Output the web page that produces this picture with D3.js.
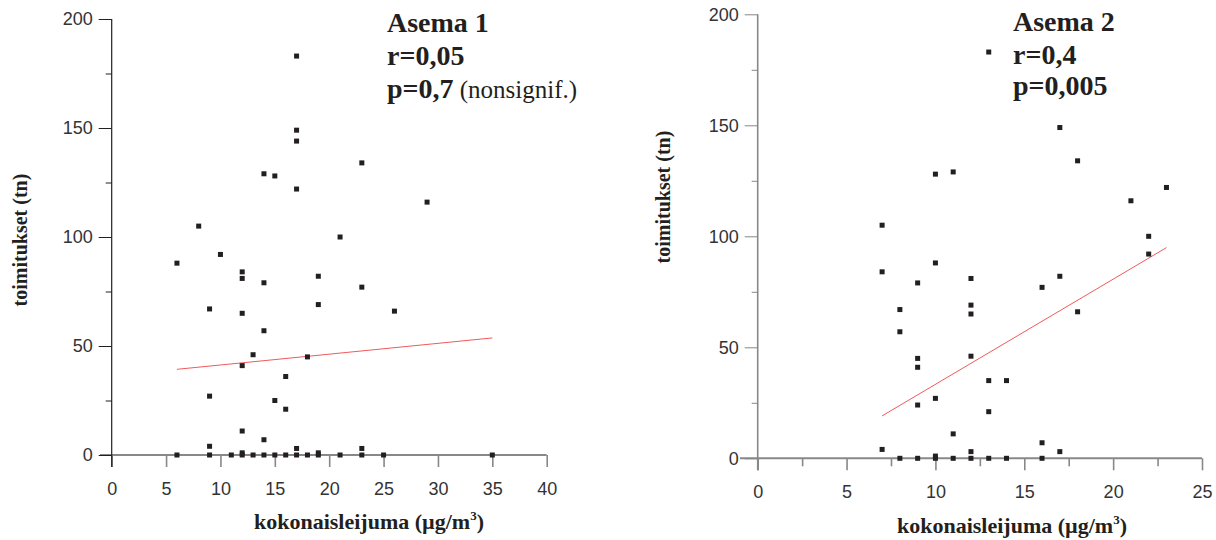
<!DOCTYPE html>
<html>
<head>
<meta charset="utf-8">
<script src="https://cdn.jsdelivr.net/npm/d3@7"></script>
<style>
  body { margin: 0; background: #fff; }
  svg { display: block; }
  .tick text { font-family: "Liberation Sans", Arial, sans-serif; fill: #333; }
  .xlab text { font-family: "Liberation Sans Narrow", "Liberation Sans", Arial, sans-serif; }
</style>
</head>
<body>
<div class="chart"></div>
<script>
// Asema 1
var s1X = [17, 17, 17, 23, 14, 15, 17, 29, 8, 21, 10, 6, 12, 12, 19, 14, 23, 9, 12, 19, 26, 14,
           13, 18, 12, 16, 9, 15, 16, 12, 14, 9, 17, 19, 23, 12,
           6, 9, 11, 12, 13, 14, 15, 16, 17, 18, 19, 21, 23, 25, 35];
var s1Y = [183, 149, 144, 134, 129, 128, 122, 116, 105, 100, 92, 88, 84, 81, 82, 79, 77, 67, 65, 69, 66, 57,
           46, 45, 41, 36, 27, 25, 21, 11, 7, 4, 3, 1, 3, 1,
           0, 0, 0, 0, 0, 0, 0, 0, 0, 0, 0, 0, 0, 0, 0];
var fit1X = [6, 35];
var fit1Y = [39.3, 53.7];

// Asema 2
var s2X = [13, 17, 18, 10, 11, 23, 21, 7, 22, 22, 10, 7, 12, 9, 17, 16, 8, 12, 12, 18, 8,
           9, 9, 12, 13, 14, 10, 9, 13, 11, 16, 7, 12, 17, 10,
           8, 9, 10, 11, 12, 13, 14, 16];
var s2Y = [183, 149, 134, 128, 129, 122, 116, 105, 100, 92, 88, 84, 81, 79, 82, 77, 67, 69, 65, 66, 57,
           45, 41, 46, 35, 35, 27, 24, 21, 11, 7, 4, 3, 3, 1,
           0, 0, 0, 0, 0, 0, 0, 0];
var fit2X = [7, 23];
var fit2Y = [19.1, 94.9];

var yTicks = [0, 25, 50, 75, 100, 125, 150, 175, 200];
var x1Ticks = [0, 5, 10, 15, 20, 25, 30, 35, 40];
var x2Ticks = [0, 2.5, 5, 7.5, 10, 12.5, 15, 17.5, 20, 22.5, 25];

var titles1 = ["Asema 1", "r=0,05", "p=0,7"];
var titles2 = ["Asema 2", "r=0,4", "p=0,005"];
var note1 = "(nonsignif.)";
var yTitle = "toimitukset (tn)";
var xTitle = "kokonaisleijuma (\u00b5g/m";

var svg = d3.select('.chart').append('svg')
    .attr('width', 1216)
    .attr('height', 540);

function panel(cfg) {
    var x = d3.scaleLinear().domain(cfg.xDomain).range(cfg.xRange);
    var y = d3.scaleLinear().domain([0, 200]).range(cfg.yRange);
    var g = svg.append('g');

    // x axis
    var xa = g.append('g')
        .attr('class', 'xlab')
        .attr('transform', 'translate(0,' + y(0) + ')')
        .call(d3.axisBottom(x).tickValues(cfg.xTicks).tickSize(cfg.xTickLen)
            .tickFormat(function (d) { return d % 5 === 0 ? d : ''; }));
    xa.select('.domain').remove();
    xa.selectAll('.tick line')
        .attr('stroke', '#888')
        .attr('stroke-width', 1.6)
        .attr('y2', function (d) { return d % 5 === 0 ? cfg.xTickLen : cfg.xTickLen - 4; });
    xa.selectAll('.tick text')
        .attr('y', cfg.xLabelY)
        .attr('dy', null)
        .style('font-size', '18px');
    g.append('line')
        .attr('x1', cfg.xAxisStart).attr('x2', x(cfg.xDomain[1]))
        .attr('y1', y(0)).attr('y2', y(0))
        .attr('stroke', '#888').attr('stroke-width', 2);

    // y axis
    var ya = g.append('g')
        .attr('transform', 'translate(' + x(0) + ',0)')
        .call(d3.axisLeft(y).tickValues(yTicks).tickSize(13)
            .tickFormat(function (d) { return d % 50 === 0 ? d : ''; }));
    ya.select('.domain').remove();
    ya.selectAll('.tick line')
        .attr('stroke', cfg.yColor)
        .attr('x2', function (d) { return d % 50 === 0 ? -13 : -6; });
    ya.selectAll('.tick text')
        .attr('x', -19)
        .style('font-size', '18px');
    g.append('line')
        .attr('x1', x(0)).attr('x2', x(0))
        .attr('y1', y(200)).attr('y2', y(0) + cfg.xTickLen)
        .attr('stroke', cfg.yColor).attr('stroke-width', cfg.yWidth);

    // regression line
    g.append('line')
        .attr('x1', x(cfg.fitX[0])).attr('y1', y(cfg.fitY[0]))
        .attr('x2', x(cfg.fitX[1])).attr('y2', y(cfg.fitY[1]))
        .attr('stroke', '#f05a5a').attr('stroke-width', 1);

    // points
    g.selectAll('.pt')
        .data(cfg.xs.map(function (v, i) { return [v, cfg.ys[i]]; }))
        .enter().append('rect')
        .attr('class', 'pt')
        .attr('x', function (d) { return x(d[0]) - 2.5; })
        .attr('y', function (d) { return y(d[1]) - 2.5; })
        .attr('width', 5).attr('height', 5)
        .attr('fill', '#231f20');

    // axis titles
    g.append('text')
        .attr('transform', 'translate(' + cfg.yTitleX + ',' + cfg.yTitleY + ') rotate(-90)')
        .attr('text-anchor', 'middle')
        .style('font-family', '"Liberation Serif", "Times New Roman", serif')
        .style('font-weight', 'bold')
        .style('font-size', '20px')
        .attr('fill', '#231f20')
        .text(yTitle);

    var xt = g.append('text')
        .attr('x', cfg.xTitleX).attr('y', cfg.xTitleY)
        .attr('text-anchor', 'middle')
        .style('font-family', '"Liberation Serif", "Times New Roman", serif')
        .style('font-weight', 'bold')
        .style('font-size', '22px')
        .attr('fill', '#231f20');
    xt.append('tspan').text(xTitle);
    xt.append('tspan').attr('dy', -9).style('font-size', '13px').text('3');
    xt.append('tspan').attr('dy', 9).text(')');

    // stats block
    var st = g.append('g').attr('transform', 'translate(' + cfg.statX + ',0)');
    cfg.titles.forEach(function (t, i) {
        var tx = st.append('text')
            .attr('x', 0).attr('y', cfg.statY[i])
            .style('font-family', '"Liberation Serif", "Times New Roman", serif')
            .style('font-weight', 'bold')
            .style('font-size', '28px')
            .attr('fill', '#231f20')
            .text(t);
        if (i === 2 && cfg.note) {
            tx.append('tspan')
                .style('font-weight', 'normal')
                .style('font-size', '25px')
                .text(' ' + cfg.note);
        }
    });
}

panel({
    xs: s1X, ys: s1Y, fitX: fit1X, fitY: fit1Y,
    xDomain: [0, 40], xRange: [111.7, 546.7], yRange: [455, 19],
    xTicks: x1Ticks, xTickLen: 12, xLabelY: 40, xAxisStart: 100,
    yColor: '#231f20', yWidth: 1.2,
    yTitleX: 27, yTitleY: 240, xTitleX: 369, xTitleY: 529,
    titles: titles1, note: note1, statX: 387, statY: [32, 65, 98]
});

panel({
    xs: s2X, ys: s2Y, fitX: fit2X, fitY: fit2Y,
    xDomain: [0, 25], xRange: [757.7, 1202], yRange: [458.3, 14.3],
    xTicks: x2Ticks, xTickLen: 12, xLabelY: 40, xAxisStart: 740,
    yColor: '#888', yWidth: 1.6,
    yTitleX: 670, yTitleY: 197, xTitleX: 1012, xTitleY: 533,
    titles: titles2, note: null, statX: 1013, statY: [31, 64, 95]
});
</script>
</body>
</html>
